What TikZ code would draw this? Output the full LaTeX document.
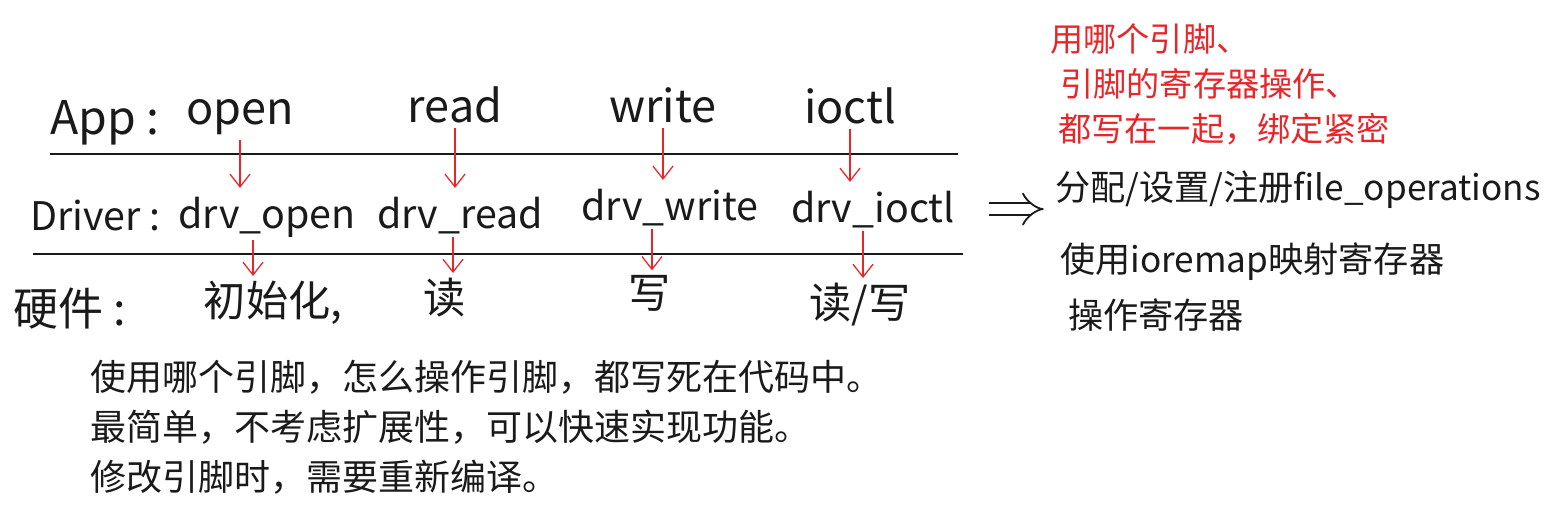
\documentclass[tikz,border=0pt]{standalone}
\usepackage{fontspec}
\setmainfont{Noto Sans CJK SC}
\usetikzlibrary{arrows.meta}
\definecolor{penred}{HTML}{E8262A}
\definecolor{ink}{HTML}{1A1A1A}

\begin{document}
\begin{tikzpicture}[
    x=0.025cm, y=-0.025cm,
    hand/.style={anchor=base, inner sep=0pt, text=ink, font=\fontsize{28}{30}\selectfont},
    call/.style={hand, font=\fontsize{32}{34}\selectfont},
    layer/.style={hand, anchor=base west, font=\fontsize{28}{30}\selectfont},
    hw/.style={hand, font=\fontsize{30}{32}\selectfont},
    note/.style={anchor=base west, inner sep=0pt, text=ink, font=\fontsize{25}{27}\selectfont},
    memo/.style={note, text=penred, font=\fontsize{23.6}{25}\selectfont},
    summary/.style={note, font=\fontsize{25.6}{28}\selectfont},
    rule/.style={line width=1.8pt, color=ink},
    flow/.style={-{Straight Barb[length=3.2mm, width=5mm]}, line width=0.9pt, color=penred},
    imp/.style={double, double distance=7pt, line width=1.3pt, color=ink, -{Implies}}
]
\useasboundingbox (0,0) rectangle (1556,518);

% --- layer names ---
\node[layer, font=\fontsize{33}{35}\selectfont] (app) at (50,135) {App :};
\node[layer] (drv) at (30,230) {Driver :};
\node[layer, font=\fontsize{32}{34}\selectfont] (hwl) at (13,325) {硬件 :};

% --- app calls ---
\node[call] (open)  at (240,125) {open};
\node[call] (read)  at (455,123) {read};
\node[call] (write) at (663,123) {write};
\node[call] (ioctl) at (850,124) {ioctl};

% --- driver functions ---
\node[hand] (drvopen)  at (267,228) {drv\_open};
\node[hand] (drvread)  at (460,228) {drv\_read};
\node[hand] (drvwrite) at (670,220) {drv\_write};
\node[hand] (drvioctl) at (873,222) {drv\_ioctl};

% --- hardware actions ---
\node[hw] (hwinit)  at (273,316) {初始化,};
\node[hw] (hwread)  at (445,313) {读};
\node[hw] (hwwrite) at (650,308) {写};
\node[hw] (hwrw)    at (860,318) {读/写};

% --- layer boundaries ---
\draw[rule] (50,154) -- (958,154);
\draw[rule] (33,254) -- (963,254);

% --- call flow ---
\foreach \u/\d in {open/drvopen, read/drvread, write/drvwrite, ioctl/drvioctl}
  \draw[flow, shorten <=3pt, shorten >=6pt] (\u.south) -- (\u.south |- \d.north);
\foreach \d/\h/\s in {drvopen/hwinit/-14, drvread/hwread/-7, drvwrite/hwwrite/-18, drvioctl/hwrw/-10}
  \draw[flow, shorten <=2pt, shorten >=3pt] ([xshift=\s*0.025cm]\d.south) -- ([xshift=\s*0.025cm]\d.south |- \h.north);

% --- what the driver does ---
\node[note] (ops)   at (1055,200) {分配/设置/注册file\_operations};
\node[note] (iomap) at (1060,272) {使用ioremap映射寄存器};
\node[note] (regop) at (1068,328) {操作寄存器};
\draw[imp, shorten <=24pt, shorten >=8pt] (drvioctl.east) -- (drvioctl.east -| ops.west);

% --- red remark ---
\node[memo] (memo1) at (1050,52)  {用哪个引脚、};
\node[memo] (memo2) at (1060,97)  {引脚的寄存器操作、};
\node[memo] (memo3) at (1058,142) {都写在一起，绑定紧密};

% --- summary ---
\node[summary] (sum1) at (90,390) {使用哪个引脚，怎么操作引脚，都写死在代码中。};
\node[summary] (sum2) at (90,440) {最简单，不考虑扩展性，可以快速实现功能。};
\node[summary] (sum3) at (90,490) {修改引脚时，需要重新编译。};

\end{tikzpicture}
\end{document}
